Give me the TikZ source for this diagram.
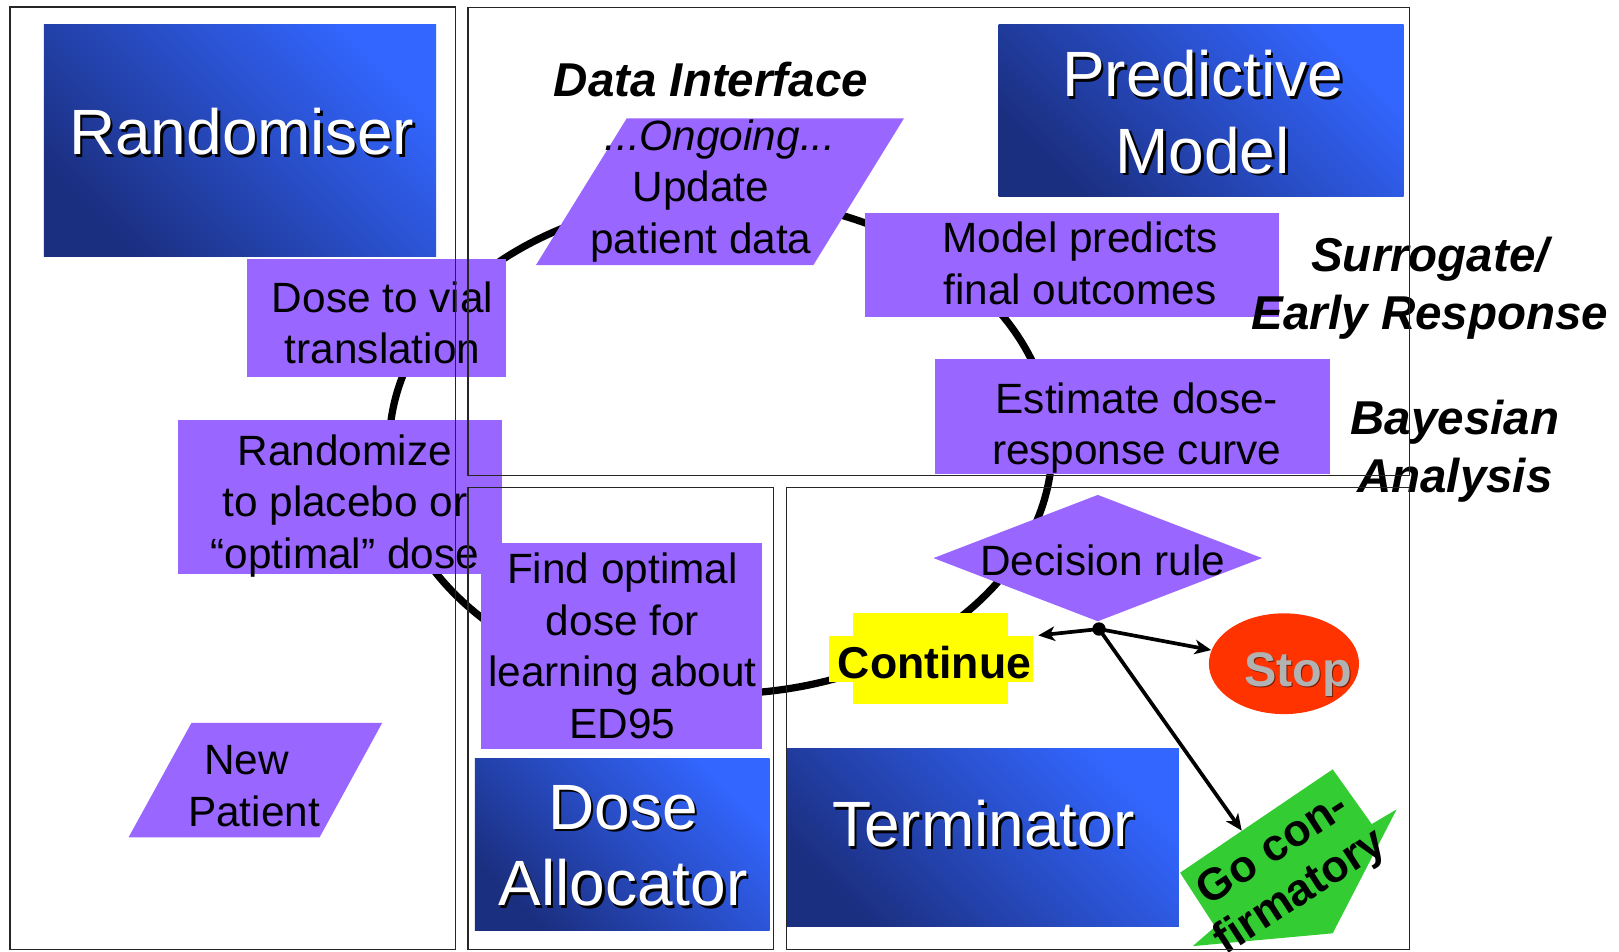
\documentclass[tikz,border=0pt]{standalone}
\usepackage{fontspec}
\setmainfont{Liberation Sans}
\usetikzlibrary{arrows.meta,shapes.geometric}

\definecolor{pviolet}{HTML}{9966FF}
\definecolor{bluehi}{HTML}{3366FF}
\definecolor{bluelo}{HTML}{1B2F80}
\definecolor{cyellow}{HTML}{FFFF00}
\definecolor{cred}{HTML}{FF3300}
\definecolor{cgreen}{HTML}{33CC33}
\definecolor{cgray}{HTML}{B2B2B2}
\definecolor{stopshade}{HTML}{7A1A00}

\begin{document}
\begin{tikzpicture}[x=0.5pt, y=-0.5pt,
  frame/.style={draw=black!85, line width=0.6pt},
  pbox/.style={fill=pviolet, inner sep=0pt, outer sep=0pt},
  bluebox/.style={inner sep=0pt, outer sep=0pt, top color=bluehi, bottom color=bluelo, shading angle=-45},
  body/.style={font=\fontsize{20.5pt}{25pt}\selectfont, align=center, inner sep=0pt, anchor=base},
  title/.style={font=\fontsize{31pt}{37pt}\selectfont, align=center, inner sep=0pt, anchor=base, text=white},
  tshadow/.style={title, text=black},
  tag/.style={font=\fontsize{23pt}{28pt}\selectfont\bfseries\itshape, align=center, inner sep=0pt, anchor=base},
  loopline/.style={line width=3.5pt},
  arr/.style={line width=1.8pt, -{Stealth[length=8pt,width=7pt,inset=2.2pt]}},
]
% page
\fill[white] (0,0) rectangle (1568,922);
\useasboundingbox (0,0) rectangle (1568,922);

% the trial cycle
\draw[loopline] (698,432) ellipse [x radius=160.5pt, y radius=120pt];

% module boxes
\node[bluebox, minimum width=189.85pt, minimum height=111.9pt] (rand) at (232.45,136.1) {};
\node[bluebox, minimum width=196.15pt, minimum height=83.5pt] (pred) at (1163.35,107) {};
\node[bluebox, minimum width=142.7pt, minimum height=83.45pt] (alloc) at (602.7,817.95) {};
\node[bluebox, minimum width=190.2pt, minimum height=86.35pt] (term) at (951.6,811.15) {};

% process steps
\node[pbox, minimum width=125.45pt, minimum height=57.25pt] (vial) at (364.35,308.25) {};
\node[pbox, minimum width=156.75pt, minimum height=74.75pt] (randz) at (329.35,481.55) {};
\node[pbox, minimum width=200.5pt, minimum height=50.35pt] (preds) at (1038.3,256.95) {};
\node[pbox, minimum width=191.1pt, minimum height=55.3pt] (est) at (1097.1,403.3) {};
\node[pbox, minimum width=136.2pt, minimum height=99.5pt] (find) at (601.8,625.5) {};
\fill[pviolet] (607,114.6) -- (875.5,114.6) -- (787.7,256.7) -- (519.1,256.7) -- cycle;
\fill[pviolet] (185.5,700) -- (370.2,700) -- (309.5,811) -- (124.5,811) -- cycle;
\node[diamond, fill=pviolet, inner sep=0pt, minimum width=159.25pt, minimum height=61.35pt] (dec) at (1063.2,540.5) {};

% outcomes
\fill[cyellow] (826.5,594) rectangle (976.6,681.8);
\node[fill=cyellow, inner sep=0pt, outer sep=0pt, minimum width=98.5pt, minimum height=22.1pt] (cont) at (901.7,638.1) {};
\node[ellipse, fill=cred, inner sep=0pt, minimum width=72.7pt, minimum height=48.8pt] (stop) at (1243.5,642.8) {};
\fill[cgreen] (1142.9,845.2) -- (1290.7,745.1) -- (1328.5,798.1) -- (1352.7,783.8)
  -- (1290.7,903.9) -- (1155.2,916.3) -- (1176.8,897.5) -- cycle;
\coordinate (goin) at (1202.6,804.5);

% decision branches
\node[circle, fill=black, inner sep=0pt, minimum size=6.5pt] (junc) at (1064.4,609.2) {};
\draw[arr, shorten >=2.7pt] (junc.center) -- (cont.north east);
\draw[arr] (junc.center) -- (stop);
\draw[arr] (junc.center) -- (goin);

% module titles (anchored on the baseline of the last line)
\node[tshadow] (randS) at (236.5,152.5) {Randomiser};
\node[title] (randT) at (234,150) {Randomiser};
\node[tshadow] (predS) at (1167.2,170.1) {Predictive\\Model};
\node[title] (predT) at (1164.7,167.6) {Predictive\\Model};
\node[tshadow] (allocS) at (605.8,879.5) {Dose\\Allocator};
\node[title] (allocT) at (603.3,877) {Dose\\Allocator};
\node[tshadow] (termS) at (954.9,822.5) {Terminator};
\node[title] (termT) at (952.4,820) {Terminator};

% side labels
\node[tag] (dataT) at (688.5,93.6) {Data Interface};
\node[tag] (surrT) at (1385,319) {Surrogate/\\Early Response};
\node[tag] (bayesT) at (1409,476.8) {Bayesian\\Analysis};

% step texts
\node[body] (vialT) at (370.5,352.5) {Dose to vial\\translation};
\node[body] (randzT) at (334,550.7) {Randomize\\to placebo or\\“optimal” dose};
\node[body] (updT) at (678.8,245.3) {\hspace*{18.5pt}{\itshape ...Ongoing...}\\Update\\patient data};
\node[body] (predsT) at (1046,294.6) {Model predicts\\final outcomes};
\node[body] (estT) at (1101,450.3) {Estimate dose-\\response curve};
\node[body] (decT) at (1068,557) {Decision rule};
\node[body] (findT) at (602.8,715) {Find optimal\\dose for\\learning about\\ED95};
\node[body] (newT) at (246,800) {New\hspace*{7pt}\\Patient};

% outcome texts
\node[anchor=base, inner sep=0pt, font=\fontsize{21.6pt}{26pt}\selectfont\bfseries] (contT) at (905,657) {Continue};
\node[anchor=base, inner sep=0pt, font=\fontsize{23.5pt}{28pt}\selectfont\bfseries, text=stopshade] (stopS) at (1258.4,666.3) {Stop};
\node[anchor=base, inner sep=0pt, font=\fontsize{23.5pt}{28pt}\selectfont\bfseries, text=cgray] (stopT) at (1257.2,665.1) {Stop};
\node[anchor=base, inner sep=0pt, align=center, rotate=33, font=\fontsize{21.7pt}{24.5pt}\selectfont\bfseries] (goT) at (1266.2,873.9) {Go con-\\firmatory};

% module frames
\draw[frame] (9.7,6.8) rectangle (441.3,919.5);
\draw[frame] (453.3,7.1) rectangle (1365,460.5);
\draw[frame] (453.3,472) rectangle (749,919.5);
\draw[frame] (761.5,472) rectangle (1365,919.5);
\end{tikzpicture}
\end{document}
